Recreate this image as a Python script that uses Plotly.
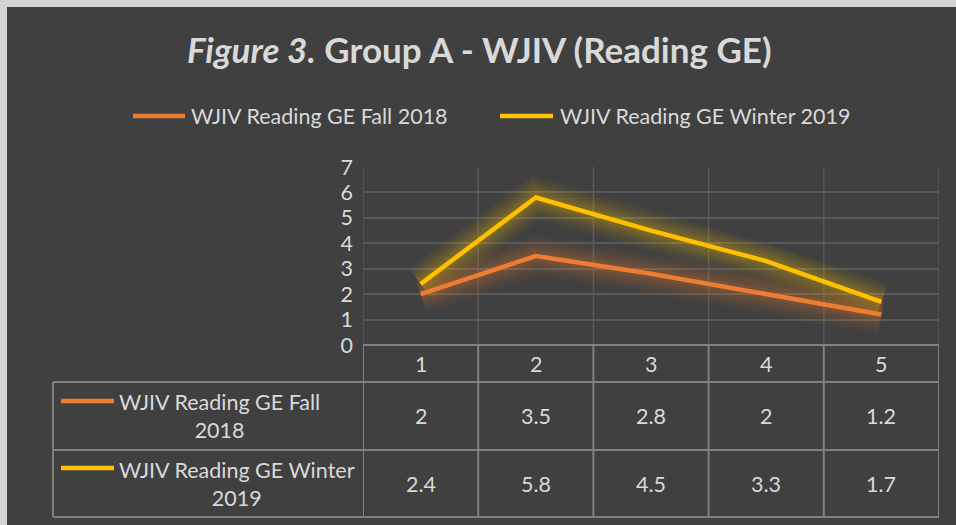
import plotly.graph_objects as go

W, H = 956, 525

categories = [1, 2, 3, 4, 5]
series_names = ["WJIV Reading GE Fall 2018", "WJIV Reading GE Winter 2019"]
fall_2018 = [2, 3.5, 2.8, 2, 1.2]
winter_2019 = [2.4, 5.8, 4.5, 3.3, 1.7]
y_ticks = [0, 1, 2, 3, 4, 5, 6, 7]
title_italic = "Figure 3."
title_bold = "Group A - WJIV (Reading GE)"

colors = ["#ED7D31", "#FFC000"]
series_values = [fall_2018, winter_2019]

FONT = "Lato"
FS = 21.5
TXT = "#d9d9d9"
GRID = "#595959"
TAB = "#808080"


def px(x):
    return x / W


def py(y):
    return 1 - y / H


fig = go.Figure()

# soft glow layers then the main lines
for vals, col in zip(series_values, colors):
    for wdt, op in [(40, 0.035), (34, 0.04), (28, 0.05), (22, 0.06), (16, 0.07), (10, 0.09)]:
        fig.add_trace(go.Scatter(
            x=categories, y=vals, mode="lines",
            line=dict(color=col, width=wdt), opacity=op,
            hoverinfo="skip", showlegend=False))
for name, vals, col in zip(series_names, series_values, colors):
    fig.add_trace(go.Scatter(
        x=categories, y=vals, mode="lines", name=name,
        line=dict(color=col, width=4.5), showlegend=False))

shapes = []
annotations = []

# dark chart area over light page border
shapes.append(dict(type="rect", xref="paper", yref="paper",
                   x0=px(7), x1=1.01, y0=-0.01, y1=py(7),
                   fillcolor="#404040", line=dict(width=0), layer="below"))

# vertical gridlines in the plot area
bounds = [c - 0.5 for c in categories] + [categories[-1] + 0.5]
for b in bounds:
    shapes.append(dict(type="line", xref="x", yref="y", x0=b, x1=b,
                       y0=0, y1=y_ticks[-1], line=dict(color=GRID, width=1.5),
                       layer="below"))

# data table lines
row_y = [345, 382, 450, 517]
for i, yy in enumerate(row_y):
    if i == 0:
        shapes.append(dict(type="line", xref="x", yref="paper", x0=bounds[0], x1=bounds[-1],
                           y0=py(yy), y1=py(yy), line=dict(color=TAB, width=2)))
    else:
        shapes.append(dict(type="line", xref="paper", yref="paper", x0=px(53), x1=px(939),
                           y0=py(yy), y1=py(yy), line=dict(color=TAB, width=2)))
for b in bounds:
    shapes.append(dict(type="line", xref="x", yref="paper", x0=b, x1=b,
                       y0=py(345), y1=py(517), line=dict(color=TAB, width=2)))
shapes.append(dict(type="line", xref="paper", yref="paper", x0=px(53), x1=px(53),
                   y0=py(382), y1=py(517), line=dict(color=TAB, width=2)))

# category labels row
for c in categories:
    annotations.append(dict(x=c, y=py(364), xref="x", yref="paper", text=str(c),
                            xanchor="center", yanchor="middle",
                            showarrow=False, font=dict(family=FONT, size=FS, color=TXT)))

# value rows
row_centers = [416, 484]
row_first_line = [401, 468]
for name, vals, col, yc, yl in zip(series_names, series_values, colors, row_centers, row_first_line):
    for c, v in zip(categories, vals):
        annotations.append(dict(x=c, y=py(yc), xref="x", yref="paper", text=f"{v:g}",
                                xanchor="center", yanchor="middle",
                                showarrow=False, font=dict(family=FONT, size=FS, color=TXT)))
    shapes.append(dict(type="line", xref="paper", yref="paper", x0=px(61), x1=px(114),
                       y0=py(yl), y1=py(yl), line=dict(color=col, width=4.5)))
    head, tail = name.rsplit(" ", 1)
    annotations.append(dict(x=px(117), y=py(yc), xref="paper", yref="paper",
                            text=f"{head}<br>{tail}", align="center",
                            xanchor="left", yanchor="middle", showarrow=False,
                            font=dict(family=FONT, size=FS, color=TXT)))

# top legend
legend_x = [(133, 185, 189), (500, 553, 558)]
for name, col, (k0, k1, tx) in zip(series_names, colors, legend_x):
    shapes.append(dict(type="line", xref="paper", yref="paper", x0=px(k0), x1=px(k1),
                       y0=py(116), y1=py(116), line=dict(color=col, width=4.5)))
    annotations.append(dict(x=px(tx), y=py(116), xref="paper", yref="paper", text=name,
                            xanchor="left", yanchor="middle", showarrow=False,
                            font=dict(family=FONT, size=FS, color=TXT)))

# title
annotations.append(dict(x=px(479), y=py(49), xref="paper", yref="paper",
                        text=f"<b><i>{title_italic}</i> {title_bold}</b>",
                        showarrow=False, xanchor="center", yanchor="middle",
                        font=dict(family=FONT, size=35, color=TXT)))

fig.update_layout(
    width=W, height=H,
    margin=dict(l=0, r=0, t=0, b=0, autoexpand=False),
    paper_bgcolor="#d4d4d4",
    plot_bgcolor="rgba(0,0,0,0)",
    showlegend=False,
    shapes=shapes,
    annotations=annotations,
    xaxis=dict(domain=[px(363), px(939)], range=[0.5, 5.5], showgrid=False,
               zeroline=False, showline=False, showticklabels=False, fixedrange=True,
               automargin=False),
    yaxis=dict(domain=[py(345), py(167)], range=[0, 7], tickvals=y_ticks,
               showgrid=True, gridcolor=GRID, gridwidth=1.5, zeroline=False,
               showline=False, ticks="", ticklabelstandoff=9, automargin=False,
               tickfont=dict(family=FONT, size=FS, color=TXT), fixedrange=True),
)

fig.write_html("out.html", config={"displayModeBar": False},
               post_script="document.body.style.margin='0';document.body.style.overflow='hidden';")
